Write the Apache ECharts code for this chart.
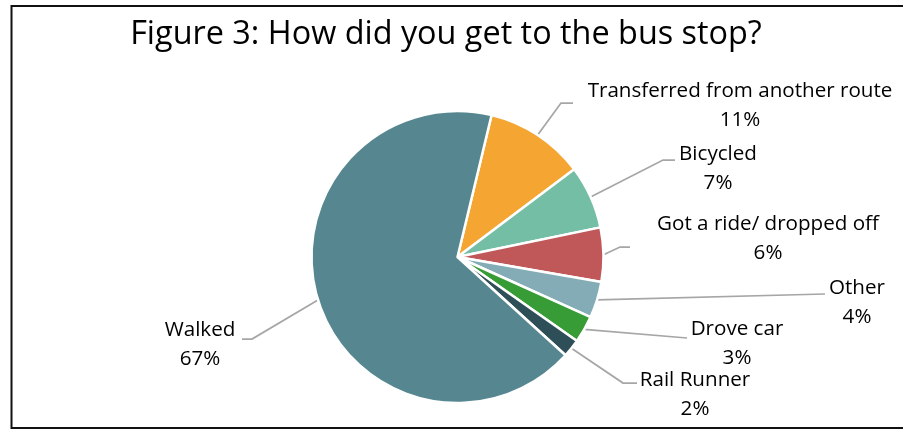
<!DOCTYPE html>
<html>
<head>
<meta charset="utf-8">
<script src="https://cdn.jsdelivr.net/npm/echarts@6/dist/echarts.min.js"></script>
<style>
  html, body { margin: 0; padding: 0; background: #fff; }
  #chart { width: 903px; height: 430px; }
</style>
</head>
<body>
<div id="chart"></div>
<script>
// Survey answers, in clockwise order from the first slice
const categories = [
  'Transferred from another route',
  'Bicycled',
  'Got a ride/ dropped off',
  'Other',
  'Drove car',
  'Rail Runner',
  'Walked'
];
const shares = [11, 7, 6, 4, 3, 2, 67];
const sliceColors = ['#F4A532', '#74BEA6', '#C0585A', '#84ACB6', '#379B36', '#2E4F57', '#568790'];

// Pie geometry and label placement (label centre x/y, elbow x/y, leader end x)
const CX = 457.5, CY = 257, R = 146, START = 76.5;
const labelSpots = [
  [740, 106, 561, 103, 573],
  [718, 169, 663, 160, 675],
  [768, 239, 620, 247, 630],
  [857, 303, 825, 294, 825],
  [737, 344, 687, 338, 687],
  [695, 395, 623, 383, 637],
  [200, 345, 252, 339, 242]
];

const total = shares.reduce((a, b) => a + b, 0);
function edgePoint(i) {
  let before = 0;
  for (let k = 0; k < i; k++) before += shares[k];
  const midDeg = START - (before + shares[i] / 2) / total * 360;
  const a = midDeg * Math.PI / 180;
  return [CX + R * Math.cos(a), CY - R * Math.sin(a)];
}

const FONT = 'Open Sans';
const chart = echarts.init(document.getElementById('chart'), null, { renderer: 'canvas' });
chart.setOption({
  backgroundColor: '#fff',
  animation: false,
  title: {
    text: 'Figure 3: How did you get to the bus stop?',
    left: 441,
    top: 14,
    textAlign: 'center',
    textStyle: { fontFamily: FONT, fontSize: 32.4, fontWeight: 'normal', color: '#000' }
  },
  graphic: [{
    type: 'rect',
    shape: { x: 11.5, y: 6, width: 905, height: 422 },
    style: { fill: 'none', stroke: '#111', lineWidth: 2 },
    silent: true
  }],
  series: [{
    type: 'pie',
    center: [CX, CY],
    radius: R,
    startAngle: START,
    clockwise: true,
    avoidLabelOverlap: false,
    itemStyle: { borderColor: '#fff', borderWidth: 2.5 },
    label: {
      show: true,
      position: 'outside',
      fontFamily: FONT,
      fontSize: 20.6,
      lineHeight: 29,
      color: '#000',
      align: 'center',
      formatter: p => p.name + '\n' + p.value + '%'
    },
    labelLine: {
      show: true,
      lineStyle: { color: '#A6A6A6', width: 1.75 }
    },
    labelLayout: function (params) {
      const i = params.dataIndex;
      const s = labelSpots[i];
      const start = edgePoint(i);
      return {
        x: s[0],
        y: s[1],
        align: 'center',
        verticalAlign: 'middle',
        labelLinePoints: [start, [s[2], s[3]], [s[4], s[3]]]
      };
    },
    data: categories.map((name, i) => ({
      name: name,
      value: shares[i],
      itemStyle: { color: sliceColors[i] }
    }))
  }]
});
</script>
</body>
</html>
